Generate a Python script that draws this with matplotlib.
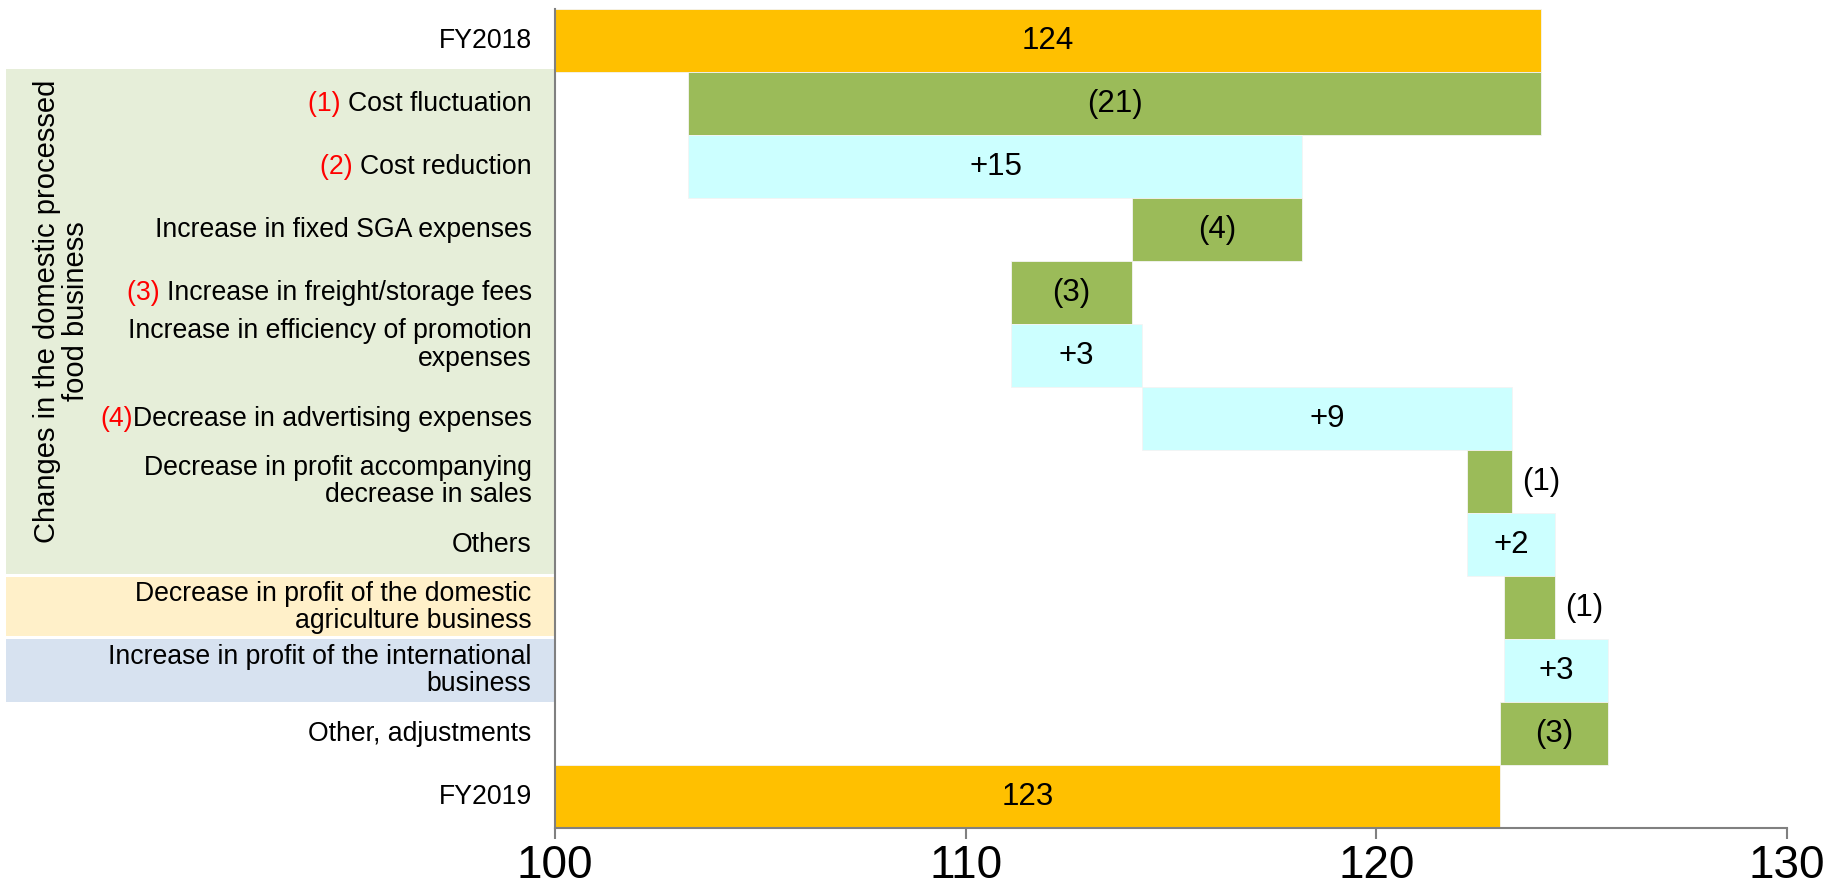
import matplotlib
matplotlib.use("Agg")
import matplotlib.pyplot as plt
import matplotlib.transforms as mtransforms
from matplotlib.patches import Rectangle

# ---- data ----
categories = ["FY2018", "Cost fluctuation", "Cost reduction",
              "Increase in fixed SGA expenses", "Increase in freight/storage fees",
              "Increase in efficiency of promotion\nexpenses",
              "Decrease in advertising expenses",
              "Decrease in profit accompanying\ndecrease in sales", "Others",
              "Decrease in profit of the domestic\nagriculture business",
              "Increase in profit of the international\nbusiness",
              "Other, adjustments", "FY2019"]
prefixes = ["", "(1) ", "(2) ", "", "(3) ", "", "(4)", "", "", "", "", "", ""]
start_value = 124.0
changes = [-20.75, 14.95, -4.15, -2.95, 3.2, 9.0, -1.1, 2.15, -1.25, 2.55, -2.63]
value_labels = ["124", "(21)", "+15", "(4)", "(3)", "+3", "+9", "(1)", "+2",
                "(1)", "+3", "(3)", "123"]
group_label = "Changes in the domestic processed\nfood business"
xticks = [100, 110, 120, 130]
base = 100

plt.rcParams['font.family'] = ['Liberation Sans', 'DejaVu Sans']

# waterfall geometry
lefts = [base]
widths = [start_value - base]
colors = ['#FFC000']
running = start_value
for c in changes:
    new = running + c
    lefts.append(min(running, new))
    widths.append(abs(c))
    colors.append('#CCFFFF' if c > 0 else '#9BBB59')
    running = new
lefts.append(base)
widths.append(running - base)
colors.append('#FFC000')

fig = plt.figure(figsize=(18.33, 8.94), dpi=100)
ax = fig.add_axes([0.3028, 0.0738, 0.6721, 0.9161])

rows = list(range(len(categories)))
ax.barh(rows, widths, left=lefts, height=1.0, color=colors,
        edgecolor='#f4f4f4', linewidth=0.6, zorder=2)

ax.set_xlim(100, 130)
ax.set_ylim(len(categories) - 0.5, -0.5)
ax.set_xticks(xticks)
ax.set_xticklabels([str(t) for t in xticks], fontsize=33)
ax.set_yticks([])
ax.tick_params(axis='x', length=8, width=1.5, color='#808080', pad=3.5)
for s in ['top', 'right']:
    ax.spines[s].set_visible(False)
for s in ['left', 'bottom']:
    ax.spines[s].set_color('#808080')
    ax.spines[s].set_linewidth(1.5)

# value labels
for i, (l, w, txt) in enumerate(zip(lefts, widths, value_labels)):
    if w < 1.5:
        ax.text(l + w + 0.25, i, txt, ha='left', va='center', fontsize=22.5, zorder=3)
    else:
        ax.text(l + w / 2, i, txt, ha='center', va='center', fontsize=22.5, zorder=3)

# group bands on the left
band_tr = mtransforms.blended_transform_factory(fig.transFigure, ax.transData)
bands = [(0.45, 8.47, '#E6EED9'), (8.52, 9.45, '#FFF0C9'), (9.5, 10.5, '#D7E2F0')]
for y0, y1, col in bands:
    fig.add_artist(Rectangle((6 / 1833, y0), 0.3028 - 6 / 1833, y1 - y0,
                             transform=band_tr, facecolor=col, edgecolor='none',
                             zorder=-1))

ax.text(0.0335, 4.3, group_label, transform=band_tr, rotation=90,
        ha='center', va='center', fontsize=21, linespacing=1.08,
        multialignment='center', clip_on=False)

# category labels, with red numbering
label_x = -0.019
nudge = {5: -0.17}
fig.canvas.draw()
renderer = fig.canvas.get_renderer()
lab_tr = mtransforms.blended_transform_factory(ax.transAxes, ax.transData)
for i, (pre, cat) in enumerate(zip(prefixes, categories)):
    y = i + nudge.get(i, 0)
    ax.text(label_x, y, cat, transform=lab_tr, ha='right', va='center',
            fontsize=19.2, linespacing=1.07, multialignment='right', clip_on=False)
    if pre:
        ghost = ax.text(label_x, y, pre + cat, transform=lab_tr, ha='right',
                        va='center', fontsize=19.2, alpha=0, clip_on=False)
        bb = ghost.get_window_extent(renderer)
        x0 = ax.transAxes.inverted().transform((bb.x0, bb.y0))[0]
        ax.text(x0, y, pre, transform=lab_tr, ha='left', va='center',
                fontsize=19.2, color='red', clip_on=False)

fig.savefig("out.png", dpi=100)
